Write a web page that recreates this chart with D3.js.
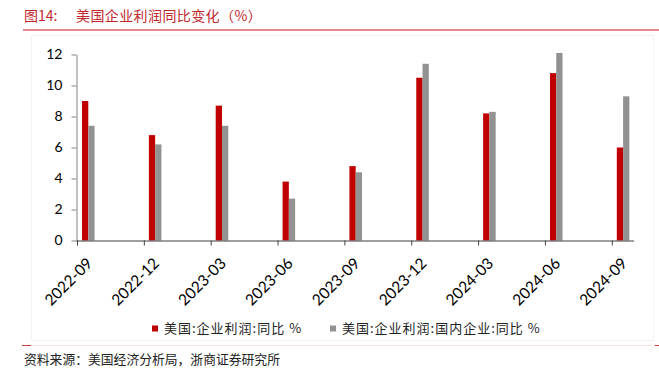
<!DOCTYPE html>
<html>
<head>
<meta charset="utf-8">
<script src="https://cdn.jsdelivr.net/npm/d3@7"></script>
<style>
  body { margin: 0; background: #fff; }
  svg { display: block; }
</style>
</head>
<body>
<div class="canvas"></div>
<script>
// quarters on the x axis
const categories = ["2022-09", "2022-12", "2023-03", "2023-06", "2023-09", "2023-12", "2024-03", "2024-06", "2024-09"];
// 美国:企业利润:同比 %
const profitYoY = [9.0, 6.8, 8.7, 3.8, 4.8, 10.5, 8.2, 10.8, 6.0];
// 美国:企业利润:国内企业:同比 %
const domesticYoY = [7.4, 6.2, 7.4, 2.7, 4.4, 11.4, 8.3, 12.1, 9.3];
const yTicks = [0, 2, 4, 6, 8, 10, 12];
const seriesNames = ["美国:企业利润:同比 %", "美国:企业利润:国内企业:同比 %"];
const seriesColors = ["#c00000", "#929292"];

const w = 659;
const h = 380;
const cjk = "'Noto Sans CJK SC', sans-serif";
const latin = "Lato, 'Liberation Sans', sans-serif";

const svg = d3.select(".canvas")
  .append("svg")
  .attr("width", w)
  .attr("height", h);

// title + underline
svg.append("text")
  .attr("x", 24)
  .attr("y", 21)
  .attr("fill", "#c0282d")
  .style("font-family", cjk)
  .style("font-size", "14px")
  .text("图14:");
svg.append("text")
  .attr("x", 76)
  .attr("y", 21)
  .attr("fill", "#c0282d")
  .style("font-family", cjk)
  .style("font-size", "14px")
  .style("letter-spacing", "0.4px")
  .text("美国企业利润同比变化（%）");
svg.append("line")
  .attr("x1", 23).attr("x2", w)
  .attr("y1", 30).attr("y2", 30)
  .attr("stroke", "#e68a8f")
  .attr("stroke-width", 2);

// faint chart area border
svg.append("rect")
  .attr("x", 31.5).attr("y", 35.5)
  .attr("width", 622).attr("height", 305)
  .attr("fill", "none")
  .attr("stroke", "#f3f3f3");

// scales
const y = d3.scaleLinear()
  .domain([0, 12])
  .range([240.5, 54.5]);

const x = d3.scalePoint()
  .domain(categories)
  .range([77, 77 + 8 * 66.85]);
const step = x.step();

const graph = svg.append("g");

// bars
const data = categories.map((c, i) => ({ cat: c, values: [profitYoY[i], domesticYoY[i]] }));
const barW = step * 0.094;
const barOffset = step * 0.075;

graph.selectAll("g.cat")
  .data(data)
  .enter()
  .append("g")
  .attr("class", "cat")
  .selectAll("rect")
  .data(d => d.values.map((v, k) => ({ cat: d.cat, v, k })))
  .enter()
  .append("rect")
  .attr("x", d => x(d.cat) + barOffset + d.k * barW)
  .attr("width", barW)
  .attr("y", d => y(d.v))
  .attr("height", d => y(0) - y(d.v))
  .attr("fill", d => seriesColors[d.k]);

// y axis
const yAxisGroup = graph.append("g")
  .attr("transform", `translate(${x.range()[0] - 0.5}, 0)`);
yAxisGroup.call(d3.axisLeft(y).tickValues(yTicks).tickSize(5).tickSizeOuter(0).tickPadding(9));
yAxisGroup.select(".domain").attr("stroke", "#858585");
yAxisGroup.selectAll(".tick line").attr("stroke", "#858585");
yAxisGroup.selectAll(".tick text")
  .attr("fill", "#000")
  .style("font-family", latin)
  .style("font-size", "14px");

// x axis
const xAxisGroup = graph.append("g")
  .attr("transform", `translate(0, ${y(0)})`);
xAxisGroup.call(d3.axisBottom(x).tickSize(5).tickSizeOuter(0));
xAxisGroup.select(".domain")
  .attr("d", `M${x.range()[0] - 0.5},0.5H${x.range()[1] + step / 3}`)
  .attr("stroke", "#404040");
xAxisGroup.selectAll(".tick line").attr("stroke", "#404040");
xAxisGroup.selectAll(".tick text")
  .attr("fill", "#000")
  .attr("text-anchor", "end")
  .attr("transform", "translate(12, 20) rotate(-45)")
  .attr("y", 0)
  .attr("dy", "0.35em")
  .style("font-family", latin)
  .style("font-size", "15.5px");

// legend
const legendX = [152, 330];
const legend = svg.append("g");
seriesNames.forEach((name, k) => {
  legend.append("rect")
    .attr("x", legendX[k]).attr("y", 325.5)
    .attr("width", 6).attr("height", 6)
    .attr("fill", seriesColors[k]);
  legend.append("text")
    .attr("x", legendX[k] + 12)
    .attr("y", 328.5)
    .attr("dy", "0.35em")
    .attr("fill", "#222")
    .style("font-family", cjk)
    .style("font-size", "13px")
    .style("letter-spacing", "1px")
    .text(name);
});

// footer line + source
svg.append("line")
  .attr("x1", 22).attr("x2", w - 4)
  .attr("y1", 345.5).attr("y2", 345.5)
  .attr("stroke", "#fbe3e3");
svg.append("line")
  .attr("x1", 22).attr("x2", 31)
  .attr("y1", 345.5).attr("y2", 345.5)
  .attr("stroke", "#d23a3a");
svg.append("line")
  .attr("x1", w - 4).attr("x2", w)
  .attr("y1", 345.5).attr("y2", 345.5)
  .attr("stroke", "#d23a3a");
svg.append("text")
  .attr("x", 24)
  .attr("y", 360)
  .attr("dy", "0.35em")
  .attr("fill", "#222")
  .style("font-family", cjk)
  .style("font-size", "12.8px")
  .text("资料来源：美国经济分析局，浙商证券研究所");
</script>
</body>
</html>
